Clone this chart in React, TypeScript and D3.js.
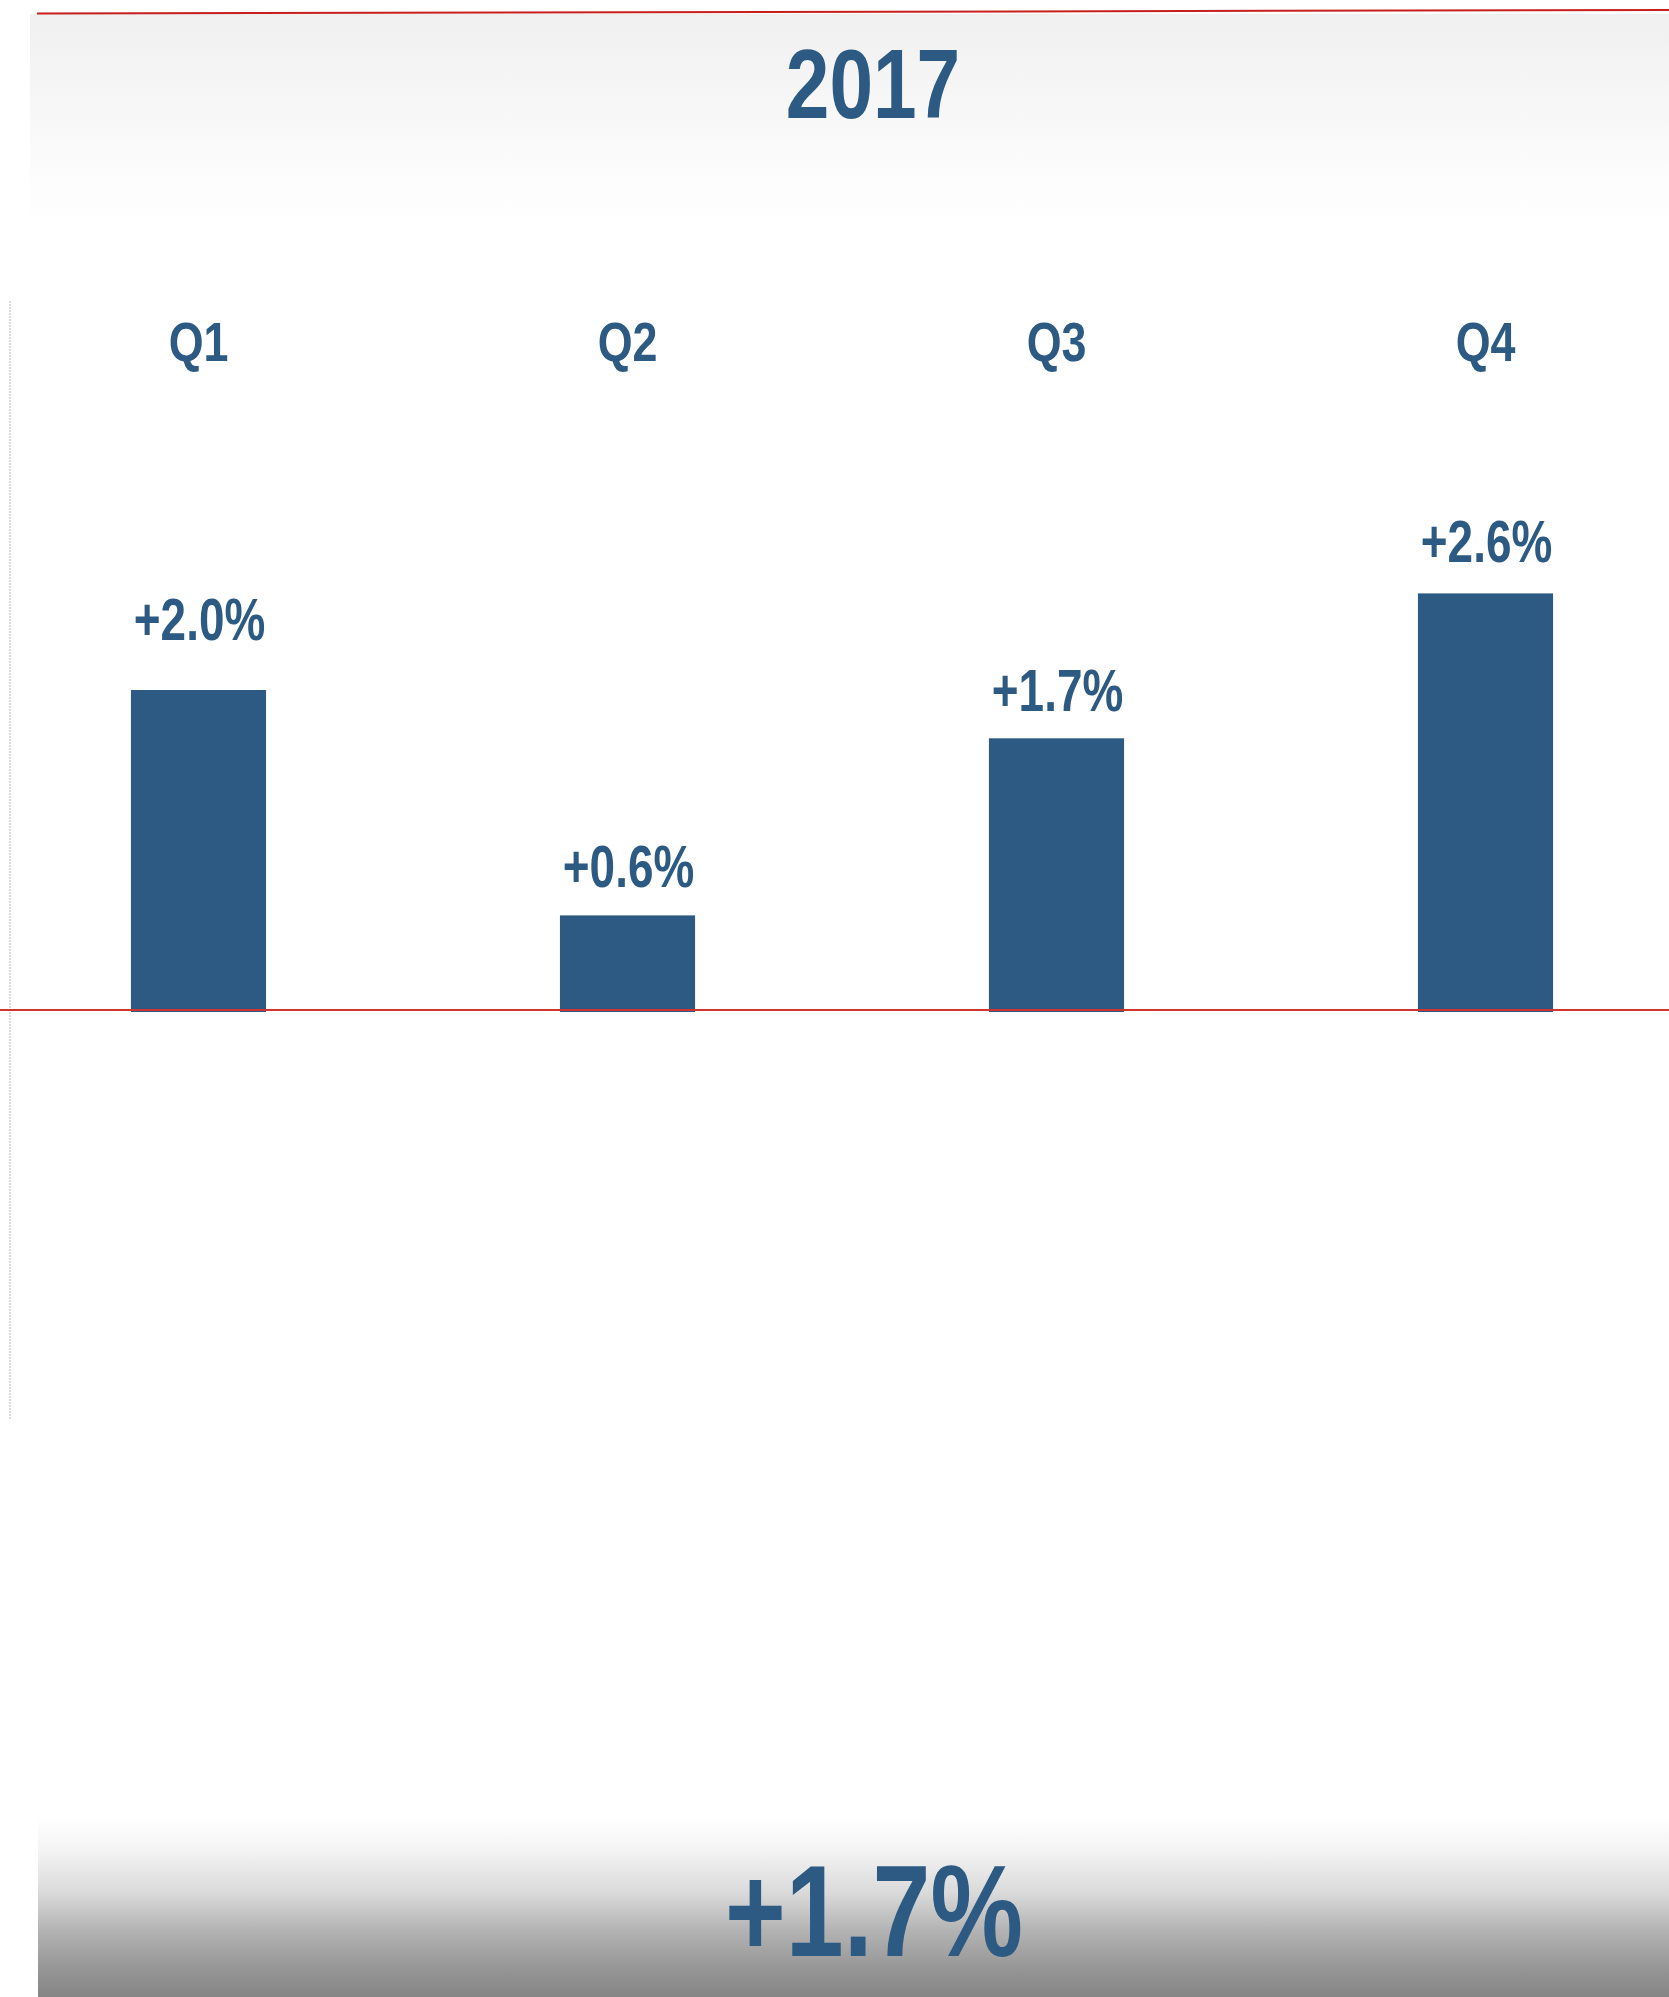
import React from "react";
import * as d3 from "d3";

const TITLE = "2017";
const CATEGORIES = ["Q1", "Q2", "Q3", "Q4"];
const VALUES = [2.0, 0.6, 1.7, 2.6];
const ANNUAL = 1.7;

const W = 1669;
const H = 1997;
const BLUE = "#2c5a82";
const FONT = "'Liberation Sans', Arial, sans-serif";
const SX = 0.8;
const SX_LABEL = 0.765;
const LABEL_GAP = [50, 28, 27, 31];

export default function App() {
  const x = d3
    .scaleBand<string>()
    .domain(CATEGORIES)
    .range([-16, 1700])
    .paddingInner(0.685)
    .paddingOuter(0.3425);
  const y = d3.scaleLinear().domain([0, 2.6]).range([1012, 1012 - 2.6 * 161]);
  const fmt = (v: number) => d3.format("+.1f")(v) + "%";

  const squish = (cx: number, cy: number, s: number = SX) =>
    `translate(${cx},${cy}) scale(${s},1)`;

  return (
    <svg
      width={W}
      height={H}
      style={{ position: "absolute", left: 0, top: 0, display: "block" }}
    >
      <defs>
        <linearGradient id="topg" x1="0" y1="0" x2="0" y2="1">
          <stop offset="0" stopColor="#f0f0f0" />
          <stop offset="0.75" stopColor="#fcfcfc" />
          <stop offset="1" stopColor="#ffffff" />
        </linearGradient>
        <linearGradient id="botg" x1="0" y1="0" x2="0" y2="1">
          <stop offset="0" stopColor="#ffffff" />
          <stop offset="0.19" stopColor="#f3f3f3" />
          <stop offset="0.42" stopColor="#dadada" />
          <stop offset="0.63" stopColor="#b3b3b3" />
          <stop offset="0.85" stopColor="#959595" />
          <stop offset="1" stopColor="#858585" />
        </linearGradient>
      </defs>
      <rect x={0} y={0} width={W} height={H} fill="#ffffff" />
      <rect x={30} y={14} width={W - 30} height={216} fill="url(#topg)" />
      <rect x={38} y={1817} width={W - 38} height={H - 1817} fill="url(#botg)" />

      {/* top red rule */}
      <line x1={37} y1={13.5} x2={W} y2={10} stroke="#c81e1e" strokeWidth={2} />

      {/* title */}
      <text
        transform={squish(873, 118)}
        textAnchor="middle"
        fontFamily={FONT}
        fontWeight="bold"
        fontSize={98}
        fill={BLUE}
      >
        {TITLE}
      </text>

      {/* left vertical dotted rule */}
      <line
        x1={10}
        y1={301}
        x2={10}
        y2={1420}
        stroke="#cfcfcf"
        strokeWidth={1.5}
        strokeDasharray="2,1"
      />

      {/* category labels */}
      {CATEGORIES.map((c) => (
        <text
          key={c}
          transform={squish((x(c) as number) + x.bandwidth() / 2, 361)}
          textAnchor="middle"
          fontFamily={FONT}
          fontWeight="bold"
          fontSize={56}
          fill={BLUE}
        >
          {c}
        </text>
      ))}

      {/* bars */}
      {CATEGORIES.map((c, i) => (
        <rect
          key={c}
          x={x(c) as number}
          y={y(VALUES[i])}
          width={x.bandwidth()}
          height={y(0) - y(VALUES[i])}
          fill={BLUE}
        />
      ))}

      {/* value labels */}
      {CATEGORIES.map((c, i) => (
        <text
          key={c}
          transform={squish(
            (x(c) as number) + x.bandwidth() / 2 + 1,
            y(VALUES[i]) - LABEL_GAP[i],
            SX_LABEL
          )}
          textAnchor="middle"
          fontFamily={FONT}
          fontWeight="bold"
          fontSize={60}
          fill={BLUE}
        >
          {fmt(VALUES[i])}
        </text>
      ))}

      {/* baseline */}
      <line x1={0} y1={1010} x2={W} y2={1010} stroke="#d23434" strokeWidth={2} />

      {/* annual figure */}
      <text
        transform={squish(874, 1956)}
        textAnchor="middle"
        fontFamily={FONT}
        fontWeight="bold"
        fontSize={130}
        fill={BLUE}
      >
        {fmt(ANNUAL)}
      </text>
    </svg>
  );
}
